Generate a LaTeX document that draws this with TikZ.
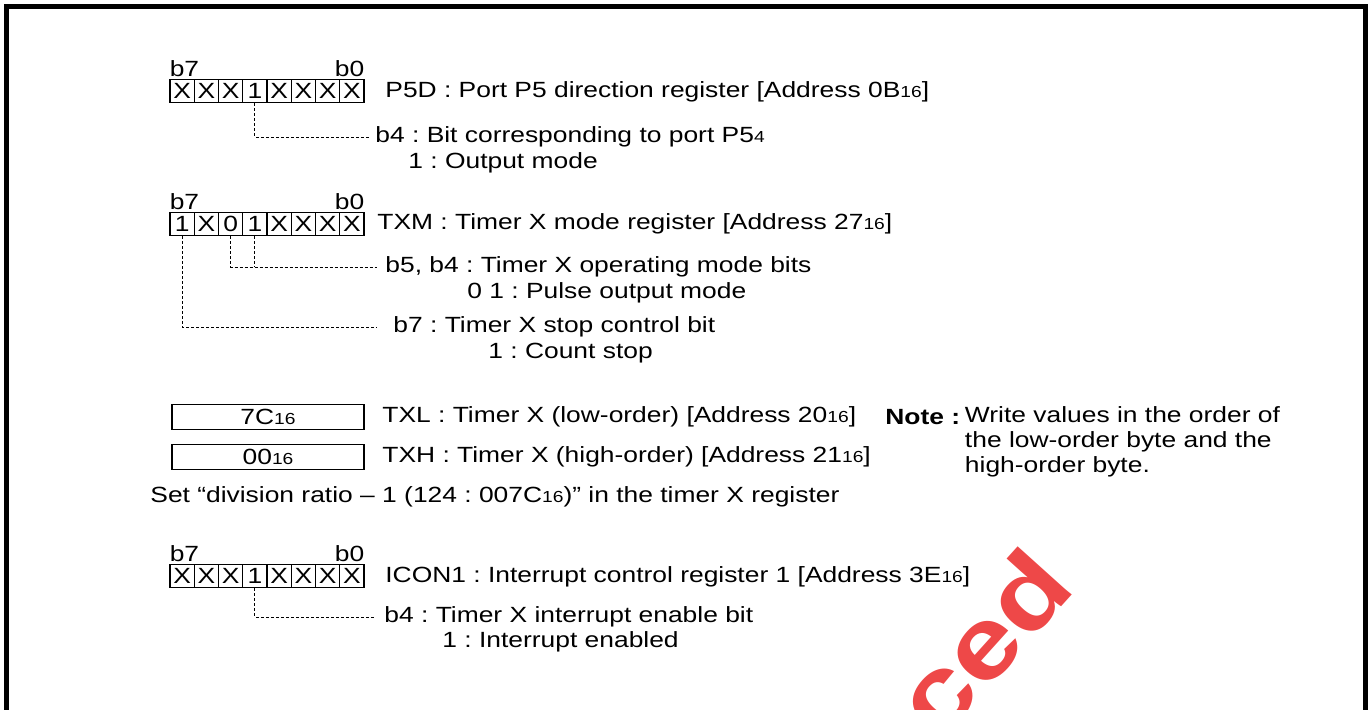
\documentclass[tikz,border=0pt]{standalone}
\usepackage{fontspec}
\setmainfont[FakeStretch=1.2]{Liberation Sans}
\usetikzlibrary{positioning}

\newcommand{\sixteen}{{\fontsize{8}{8}\selectfont 16}}
\definecolor{stamp}{RGB}{238,72,72}
\frenchspacing

\begin{document}
\begin{tikzpicture}[
    x=0.5pt, y=-0.5pt,
    font=\fontsize{11}{13}\selectfont,
    cell/.style={
        draw,
        line width=0.6pt,
        minimum width=12.125pt,
        minimum height=11.5pt,
        inner sep=0pt
    },
    valbox/.style={
        draw,
        line width=0.6pt,
        minimum width=96pt,
        minimum height=12.5pt,
        inner sep=0pt
    },
    txt/.style={
        anchor=west,
        inner sep=0pt
    },
    leader/.style={
        line width=0.4pt,
        dash pattern=on 1.5pt off 1pt
    }
]

\useasboundingbox (0,0) rectangle (1372,710);

% ------------------------------------------------
% Frame
% ------------------------------------------------

\draw[line width=2.5pt] (6.5,712) -- (6.5,6.5) -- (1365.5,6.5) -- (1365.5,712);

% ------------------------------------------------
% P5D
% ------------------------------------------------

\foreach \v [count=\i from 0, evaluate=\i as \b using int(7-\i)]
    in {X,X,X,1,X,X,X,X}
    \node[cell] (p5d-b\b) at ({170+24.25*(\i+0.5)},91) {\v};

\node[anchor=base west, inner sep=0pt] (p5d-hi) at ([yshift=1pt]p5d-b7.north west) {b7};
\node[anchor=base east, inner sep=0pt] (p5d-lo) at ([yshift=1pt]p5d-b0.north east) {b0};

\node[txt] (p5d) at (385,92)
    {P5D : Port P5 direction register [Address 0B\sixteen]};
\node[txt] (p5d-bit4) at (375,137)
    {b4 : Bit corresponding to port P5{\fontsize{8}{8}\selectfont 4}};
\node[txt] (p5d-mode) at (408,163)
    {1 : Output mode};

\draw[leader] (p5d-b4.south) |- ([xshift=-3pt]p5d-bit4.west);

% ------------------------------------------------
% TXM
% ------------------------------------------------

\foreach \v [count=\i from 0, evaluate=\i as \b using int(7-\i)]
    in {1,X,0,1,X,X,X,X}
    \node[cell] (txm-b\b) at ({170+24.25*(\i+0.5)},224) {\v};

\node[anchor=base west, inner sep=0pt] (txm-hi) at ([yshift=1pt]txm-b7.north west) {b7};
\node[anchor=base east, inner sep=0pt] (txm-lo) at ([yshift=1pt]txm-b0.north east) {b0};

\node[txt] (txm) at (377,224)
    {TXM : Timer X mode register [Address 27\sixteen]};
\node[txt] (txm-bit54) at (385,267)
    {b5, b4 : Timer X operating mode bits};
\node[txt] (txm-mode) at (467,293)
    {0 1 : Pulse output mode};
\node[txt] (txm-bit7) at (393,327)
    {b7 : Timer X stop control bit};
\node[txt] (txm-stop) at (488,353)
    {1 : Count stop};

\draw[leader] (txm-b5.south) |- ([xshift=-4pt]txm-bit54.west);
\draw[leader] (txm-b4.south) -- (txm-b4.south |- txm-bit54.west);
\draw[leader] (txm-b7.south) |- ([xshift=-8pt]txm-bit7.west);

% ------------------------------------------------
% Timer X value
% ------------------------------------------------

\node[valbox] (txl-val) at (268,417) {7C\sixteen};
\node[valbox] (txh-val) at (268,457) {00\sixteen};

\node[txt] (txl) at (382,417)
    {TXL : Timer X (low-order) [Address 20\sixteen]};
\node[txt] (txh) at (382,457)
    {TXH : Timer X (high-order) [Address 21\sixteen]};
\node[txt] (ratio) at (150,497)
    {Set “division ratio -- 1 (124 : 007C\sixteen)” in the timer X register};

\node[txt, font=\fontsize{11}{13}\selectfont\bfseries] (note) at (885,417) {Note :};
\node[txt, anchor=north west, align=left, font=\fontsize{11}{12.3}\selectfont]
    (note-txt) at ([xshift=2pt,yshift=5.2pt]note.east)
    {Write values in the order of\\the low-order byte and the\\high-order byte.};

% ------------------------------------------------
% ICON1
% ------------------------------------------------

\foreach \v [count=\i from 0, evaluate=\i as \b using int(7-\i)]
    in {X,X,X,1,X,X,X,X}
    \node[cell] (icon1-b\b) at ({170+24.25*(\i+0.5)},576) {\v};

\node[anchor=base west, inner sep=0pt] (icon1-hi) at ([yshift=1pt]icon1-b7.north west) {b7};
\node[anchor=base east, inner sep=0pt] (icon1-lo) at ([yshift=1pt]icon1-b0.north east) {b0};

\node[txt] (icon1) at (385,577)
    {ICON1 : Interrupt control register 1 [Address 3E\sixteen]};
\node[txt] (icon1-bit4) at (384,617)
    {b4 : Timer X interrupt enable bit};
\node[txt] (icon1-mode) at (442,642)
    {1 : Interrupt enabled};

\draw[leader] (icon1-b4.south) |- ([xshift=-5pt]icon1-bit4.west);

% watermark
\node[text=stamp, rotate=48, font=\fontsize{50}{50}\selectfont\bfseries]
    (stamp) at (982,642) {ced};

\end{tikzpicture}
\end{document}
